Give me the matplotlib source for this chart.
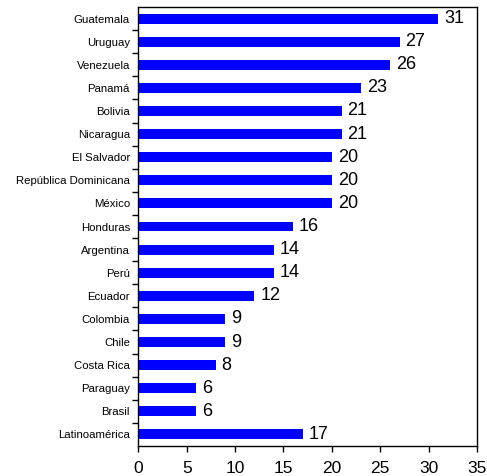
import matplotlib
matplotlib.use("Agg")
import matplotlib.pyplot as plt

countries = ["Guatemala", "Uruguay", "Venezuela", "Panamá", "Bolivia", "Nicaragua",
             "El Salvador", "República Dominicana", "México", "Honduras", "Argentina",
             "Perú", "Ecuador", "Colombia", "Chile", "Costa Rica", "Paraguay", "Brasil",
             "Latinoamérica"]
values = [31, 27, 26, 23, 21, 21, 20, 20, 20, 16, 14, 14, 12, 9, 9, 8, 6, 6, 17]
xticks = [0, 5, 10, 15, 20, 25, 30, 35]

plt.rcParams['font.family'] = ['Liberation Sans', 'DejaVu Sans']
fig = plt.figure(figsize=(4.87, 4.76), dpi=100)
ax = fig.add_axes([138.3/487, 1 - 446/476, (477 - 138.3)/487, (446 - 7)/476])

n = len(countries)
ypos = list(range(n))
ax.barh(ypos, values, height=0.43, color="#0000ff")
ax.set_ylim(n - 0.5, -0.5)
ax.set_xlim(0, 35)
ax.set_xticks(xticks)
ax.set_xticklabels([str(t) for t in xticks], fontsize=12.5)
ax.set_yticks([i - 0.5 for i in range(1, n)], minor=False)
ax.set_yticklabels([])
ax.set_yticks(ypos, minor=True)
ax.set_yticklabels(countries, minor=True, fontsize=8.2)
ax.tick_params(axis='y', which='minor', length=0, pad=6)
ax.tick_params(axis='y', which='major', length=4, direction='out', width=1)
ax.tick_params(axis='x', length=4, direction='out', width=1, pad=6.5)
for s in ax.spines.values():
    s.set_linewidth(1)
for y, v in zip(ypos, values):
    ax.text(v + 0.6, y, str(v), va='center', ha='left', fontsize=13)

fig.savefig("out.png", dpi=100)
